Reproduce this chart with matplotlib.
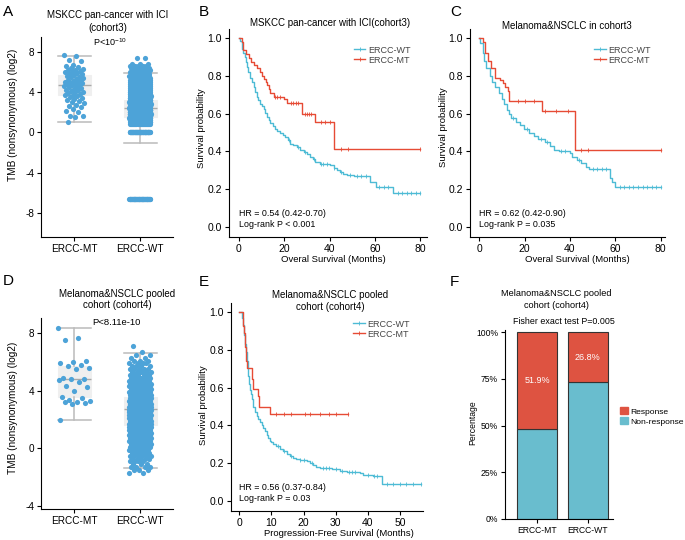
import numpy as np
import matplotlib
matplotlib.use("Agg")
import matplotlib.pyplot as plt
from matplotlib.lines import Line2D
from matplotlib.patches import Patch

plt.rcParams['font.family'] = ['Liberation Sans', 'DejaVu Sans']
plt.rcParams['mathtext.fontset'] = 'custom'
plt.rcParams['mathtext.rm'] = 'Liberation Sans'
plt.rcParams['axes.linewidth'] = 0.8
plt.rcParams['axes.unicode_minus'] = False

# ---- panel A: TMB, MSKCC cohort3 ----
groups = ["ERCC-MT", "ERCC-WT"]
a_mt = [7.7, 7.6, 7.2, 7.1, 6.7, 6.6, 6.5, 6.4, 6.3, 6.2, 6.2, 6.1, 6.0, 6.0, 5.9,
        5.8, 5.8, 5.7, 5.6, 5.5, 5.5, 5.4, 5.3, 5.2, 5.2, 5.1, 5.0, 5.0, 4.9, 4.9,
        4.8, 4.8, 4.7, 4.7, 4.6, 4.5, 4.5, 4.4, 4.3, 4.2, 4.2, 4.1, 4.0, 4.0, 3.9,
        3.8, 3.7, 3.7, 3.6, 3.5, 3.4, 3.3, 3.2, 3.1, 3.0, 2.9, 2.7, 2.6, 2.5, 2.3,
        2.1, 2.0, 1.6, 1.6, 1.5, 1.0]
a_wt_levels = [-6.64, 0.0, 0.8, 1.0, 1.2, 1.4, 1.6, 1.8, 2.0, 2.2, 2.4, 2.6, 2.8, 3.0,
               3.2, 3.4, 3.6, 3.8, 4.0, 4.2, 4.4, 4.6, 4.8, 5.0, 5.2, 5.4, 5.6, 5.8,
               6.0, 6.2, 6.4, 6.6, 6.8, 7.45]
a_wt_counts = [50, 60, 20, 40, 50, 60, 70, 75, 80, 80, 80, 75, 70, 65,
               55, 45, 40, 35, 30, 27, 24, 21, 18, 16, 14, 12, 10, 9,
               8, 7, 6, 5, 3, 2]
# box stats: q1, median, q3, lower whisker, upper whisker
a_box = [(3.76, 4.75, 5.67, 1.0, 7.65), (1.55, 2.44, 3.27, -1.09, 5.9)]

# ---- panel D: TMB, cohort4 ----
d_mt = [8.35, 7.65, 7.5, 6.1, 6.0, 5.9, 5.8, 5.75, 5.6, 5.5, 4.9, 4.85, 4.8, 4.75,
        4.6, 4.3, 4.25, 4.0, 3.6, 3.5, 3.35, 3.3, 3.25, 3.2, 3.15, 3.1, 1.95]
d_wt_levels = [-1.7, -1.5, -1.3, -1.1, -0.9, -0.7, -0.5, -0.3, -0.1, 0.1, 0.3, 0.5,
               0.7, 0.9, 1.1, 1.3, 1.5, 1.7, 1.9, 2.1, 2.3, 2.5, 2.7, 2.9, 3.1, 3.3,
               3.5, 3.7, 3.9, 4.1, 4.3, 4.5, 4.7, 4.9, 5.1, 5.3, 5.5, 5.7, 5.9, 6.1,
               6.3, 6.5, 6.7, 7.1]
d_wt_counts = [2, 3, 4, 3, 4, 5, 6, 7, 8, 9, 10, 12,
               14, 16, 18, 20, 21, 22, 23, 24, 25, 25, 25, 24, 23, 21,
               19, 17, 15, 13, 11, 10, 9, 8, 7, 6, 5, 4, 4, 3,
               2, 2, 1, 1]
d_box = [(3.59, 4.84, 5.72, 1.99, 8.38), (1.64, 2.75, 3.56, -1.34, 6.6)]

# ---- panel B: OS, MSKCC cohort3 ----
b_mt_t = [0, 1.2, 2.0, 3.2, 4.3, 5.5, 6.5, 7.9, 9.4, 10.2, 10.9, 11.8, 12.4, 13.1,
          13.8, 15.3, 19.7, 21.2, 27.8, 33.7, 41.8]
b_mt_s = [1.0, 0.98, 0.935, 0.915, 0.895, 0.875, 0.86, 0.84, 0.82, 0.80, 0.785,
          0.765, 0.75, 0.73, 0.71, 0.69, 0.675, 0.655, 0.60, 0.555, 0.415]
b_mt_cens = [16, 17, 18, 23, 24, 25, 26, 29, 30, 31, 32, 36, 38, 40, 45, 48, 80]
b_wt_t = [0, 0.5, 1.5, 2.0, 2.5, 3.0, 3.5, 4.2, 5.0, 5.7, 6.5, 7.2, 7.9, 8.6, 9.4,
          10.2, 10.9, 11.6, 12.4, 13.1, 13.8, 15.0, 16.0, 17.0, 18.2, 19.3, 20.4,
          21.5, 22.6, 24.0, 25.6, 27.0, 28.5, 30.0, 31.5, 32.6, 33.7, 35.9, 38.0,
          40.3, 41.8, 43.2, 44.7, 46.0, 47.6, 50.6, 58.0, 60.5, 68.0]
b_wt_s = [1.0, 0.985, 0.94, 0.92, 0.90, 0.875, 0.847, 0.82, 0.79, 0.765, 0.74,
          0.715, 0.69, 0.67, 0.653, 0.64, 0.627, 0.605, 0.583, 0.565, 0.548, 0.535,
          0.52, 0.507, 0.495, 0.486, 0.477, 0.46, 0.44, 0.432, 0.424, 0.41, 0.398,
          0.385, 0.371, 0.358, 0.345, 0.336, 0.332, 0.327, 0.31, 0.30, 0.292,
          0.283, 0.275, 0.27, 0.24, 0.21, 0.18]
b_wt_cens = [22, 26, 29, 33, 36, 37, 39, 42, 45, 49, 52, 54, 56, 62, 64, 66, 70, 72,
             74, 76, 78, 80]

# ---- panel C: OS, melanoma & NSCLC in cohort3 ----
c_mt_t = [0, 1.5, 2.5, 4.0, 5.0, 7.0, 9.0, 10.5, 11.5, 12.5, 13.0, 27.7, 42.0]
c_mt_s = [1.0, 0.98, 0.92, 0.88, 0.84, 0.79, 0.78, 0.76, 0.74, 0.72, 0.665, 0.615, 0.41]
c_mt_cens = [17, 20, 24, 29, 34, 39, 45, 48, 80]
c_wt_t = [0, 0.5, 1.5, 2.0, 3.0, 4.5, 5.5, 7.0, 8.5, 10.0, 11.0, 12.0, 13.0, 14.0,
          16.0, 18.0, 19.5, 22.0, 24.0, 26.0, 29.0, 31.0, 33.0, 35.0, 40.0, 41.0,
          43.0, 45.0, 47.0, 48.5, 57.5, 58.5, 60.0]
c_wt_s = [1.0, 0.975, 0.92, 0.88, 0.84, 0.80, 0.77, 0.74, 0.71, 0.68, 0.65, 0.62,
          0.60, 0.575, 0.555, 0.54, 0.52, 0.50, 0.48, 0.465, 0.45, 0.43, 0.41, 0.40,
          0.39, 0.37, 0.355, 0.34, 0.32, 0.305, 0.26, 0.24, 0.21]
c_wt_cens = [15, 21, 27, 30, 36, 38, 44, 50, 52, 54, 56, 62, 64, 66, 68, 70, 72, 74,
             76, 78, 80]

# ---- panel E: PFS, cohort4 ----
e_mt_t = [0, 1.04, 1.25, 1.45, 1.76, 2.07, 2.49, 3.84, 4.36, 5.7, 6.2, 9.5]
e_mt_s = [1.0, 0.963, 0.926, 0.889, 0.815, 0.74, 0.704, 0.648, 0.593, 0.556, 0.50, 0.46]
e_mt_cens = [11.5, 14, 16, 20.5, 22, 25, 28, 30, 33.9]
e_wt_t = [0, 0.8, 1.2, 1.5, 1.8, 2.1, 2.3, 2.6, 2.8, 3.1, 3.3, 3.6, 3.8, 4.1, 4.4,
          4.9, 5.4, 5.9, 6.4, 7.0, 7.5, 8.0, 8.5, 9.0, 9.5, 10.0, 10.6, 11.5, 12.7,
          13.7, 14.7, 15.7, 16.8, 17.8, 18.9, 21.0, 22.0, 23.0, 24.0, 25.0, 29.0,
          31.3, 33.4, 37.5, 38.6, 41.7, 44.4]
e_wt_s = [1.0, 0.97, 0.93, 0.88, 0.83, 0.79, 0.74, 0.70, 0.66, 0.62, 0.59, 0.565,
          0.54, 0.52, 0.50, 0.47, 0.45, 0.435, 0.42, 0.40, 0.385, 0.37, 0.35, 0.335,
          0.32, 0.31, 0.30, 0.29, 0.275, 0.262, 0.25, 0.237, 0.225, 0.22, 0.215,
          0.21, 0.20, 0.19, 0.18, 0.175, 0.17, 0.16, 0.155, 0.15, 0.135, 0.13, 0.09]
e_wt_cens = [12, 14, 16, 19, 20, 22.5, 26, 27, 28, 30, 32, 34, 35, 36, 40, 42, 43,
             46, 48, 50, 52, 54, 56.7]

# ---- panel F: response ----
f_response = [51.9, 26.8]
f_nonresponse = [48.1, 73.2]

W, H = 685, 540
DOT = '#4DA3D8'
RED = '#E64B35'
TEAL = '#4DBBD5'

fig = plt.figure(figsize=(W / 100, H / 100), dpi=100)


def px_axes(l, t, r, b):
    return fig.add_axes([l / W, 1 - b / H, (r - l) / W, (b - t) / H])


def ftext(x, y, s, **kw):
    fig.text(x / W, 1 - y / H, s, **kw)


def style(ax, size=7.2):
    for sp in ['top', 'right']:
        ax.spines[sp].set_visible(False)
    ax.tick_params(length=3, width=0.8, labelsize=size, pad=2)


def jitter(n, w):
    return ((np.arange(n) * 0.618034) % 1 - 0.5) * 2 * w


def tmb_panel(ax, mt, wt_levels, wt_counts, box, mt_w, wt_w):
    stats = [dict(q1=b[0], med=b[1], q3=b[2], whislo=b[3], whishi=b[4], fliers=[])
             for b in box]
    ax.bxp(stats, positions=[1, 2], widths=0.5, capwidths=0.5, patch_artist=True,
           showfliers=False,
           boxprops=dict(facecolor='#EFEFEF', edgecolor='#EFEFEF', linewidth=0.8),
           whiskerprops=dict(color='#BBBBBB', linewidth=1.1),
           capprops=dict(color='#BBBBBB', linewidth=1.1),
           medianprops=dict(color='#AAAAAA', linewidth=1.0), zorder=1)
    wt = np.repeat(wt_levels, wt_counts)
    ax.scatter(1 + jitter(len(mt), mt_w), mt, s=14, color=DOT, lw=0, zorder=3)
    ax.scatter(2 + jitter(len(wt), wt_w), wt, s=14, color=DOT, lw=0, zorder=3)
    ax.set_xlim(0.5, 2.5)
    ax.set_xticks([1, 2])
    ax.set_xticklabels(groups)
    style(ax)


def km_curve(ax, t, s, cens, color):
    end = max(cens)
    ax.step(list(t) + [end], list(s) + [s[-1]], where='post', color=color, lw=1.0)
    idx = np.searchsorted(t, cens, side='right') - 1
    ax.plot(cens, np.array(s)[idx], ls='none', marker='|', ms=3, mew=0.6, color=color)


def km_panel(ax, curves, xticks, hr, p, leg_x, leg_y):
    for t, s, c, col in curves:
        km_curve(ax, t, s, c, col)
    ax.set_ylim(-0.053, 1.048)
    ax.set_yticks([0, 0.2, 0.4, 0.6, 0.8, 1.0])
    ax.set_yticklabels(['0.0', '0.2', '0.4', '0.6', '0.8', '1.0'])
    ax.set_xticks(xticks)
    ax.text(0, 0.07, hr, fontsize=6.4, va='center')
    ax.text(0, 0.013, p, fontsize=6.4, va='center')
    handles = [Line2D([], [], color=TEAL, lw=1.0, marker='|', ms=3, mew=0.6),
               Line2D([], [], color=RED, lw=1.0, marker='|', ms=3, mew=0.6)]
    ax.legend(handles, ['ERCC-WT', 'ERCC-MT'], loc='upper left',
              bbox_to_anchor=(leg_x, leg_y), frameon=False, fontsize=6.5,
              handlelength=1.3, handletextpad=0.3, labelspacing=0.1,
              borderpad=0, borderaxespad=0, labelcolor='#444444')
    style(ax, 7.5)


# A
axA = px_axes(41, 37, 173, 237)
tmb_panel(axA, a_mt, a_wt_levels, a_wt_counts, a_box, 0.15, 0.16)
axA.set_ylim(-10.4, 9.5)
axA.set_yticks([-8, -4, 0, 4, 8])
axA.text(1.55, 9.0, r'P<10$^{\mathregular{-10}}$', fontsize=6.5, ha='center', va='center')
ftext(108, 15, 'MSKCC pan-cancer with ICI', fontsize=7, ha='center', va='center')
ftext(108, 28, '(cohort3)', fontsize=7, ha='center', va='center')
ftext(13, 115, 'TMB (nonsynonymous) (log2)', fontsize=7.2, rotation=90, ha='center', va='center')

# D
axD = px_axes(41, 318, 173, 509)
tmb_panel(axD, d_mt, d_wt_levels, d_wt_counts, d_box, 0.25, 0.17)
axD.set_ylim(-4.2, 9.05)
axD.set_yticks([-4, 0, 4, 8])
axD.text(1.65, 8.75, 'P<8.11e-10', fontsize=6.8, ha='center', va='center')
ftext(117, 294, 'Melanoma&NSCLC pooled', fontsize=7, ha='center', va='center')
ftext(117, 305, 'cohort (cohort4)', fontsize=7, ha='center', va='center')
ftext(13, 408, 'TMB (nonsynonymous) (log2)', fontsize=7.2, rotation=90, ha='center', va='center')

# B
axB = px_axes(229, 29, 427, 237)
km_panel(axB, [(b_wt_t, b_wt_s, b_wt_cens, TEAL), (b_mt_t, b_mt_s, b_mt_cens, RED)],
         [0, 20, 40, 60, 80], 'HR = 0.54 (0.42-0.70)', 'Log-rank P < 0.001', 0.63, 0.92)
axB.set_xlim(-4.4, 83)
ftext(330, 23, 'MSKCC pan-cancer with ICI(cohort3)', fontsize=7, ha='center', va='center')
ftext(202, 128, 'Survival probability', fontsize=6.8, rotation=90, ha='center', va='center')
ftext(333, 259, 'Overal Survival (Months)', fontsize=6.8, ha='center', va='center')

# C
axC = px_axes(470, 29, 665, 237)
km_panel(axC, [(c_wt_t, c_wt_s, c_wt_cens, TEAL), (c_mt_t, c_mt_s, c_mt_cens, RED)],
         [0, 20, 40, 60, 80], 'HR = 0.62 (0.42-0.90)', 'Log-rank P = 0.035', 0.635, 0.92)
axC.set_xlim(-4.1, 81.9)
ftext(567, 26, 'Melanoma&NSCLC in cohort3', fontsize=7, ha='center', va='center')
ftext(443, 127, 'Survival probability', fontsize=6.8, rotation=90, ha='center', va='center')
ftext(577, 259, 'Overal Survival (Months)', fontsize=6.8, ha='center', va='center')

# E
axE = px_axes(231, 303, 423, 511)
km_panel(axE, [(e_wt_t, e_wt_s, e_wt_cens, TEAL), (e_mt_t, e_mt_s, e_mt_cens, RED)],
         [0, 10, 20, 30, 40, 50], 'HR = 0.56 (0.37-0.84)', 'Log-rank P = 0.03', 0.635, 0.92)
axE.set_xlim(-2.6, 57.2)
ftext(330, 295, 'Melanoma&NSCLC pooled', fontsize=7, ha='center', va='center')
ftext(330, 307, 'cohort (cohort4)', fontsize=7, ha='center', va='center')
ftext(203, 405, 'Survival probability', fontsize=6.8, rotation=90, ha='center', va='center')
ftext(339, 533, 'Progression-Free Survival (Months)', fontsize=6.8, ha='center', va='center')

# F
axF = px_axes(505, 330, 613, 519)
xpos = np.arange(1, len(groups) + 1)
axF.bar(xpos, np.array(f_nonresponse) / 100, width=0.8, color='#69BDCE',
        edgecolor='#333333', lw=0.8)
axF.bar(xpos, np.array(f_response) / 100, width=0.8, bottom=np.array(f_nonresponse) / 100,
        color='#DE5341', edgecolor='#333333', lw=0.8)
for x, nr, r in zip(xpos, f_nonresponse, f_response):
    axF.text(x, (nr + r / 2) / 100, f'{r}%', color='white', fontsize=6.5,
             ha='center', va='center')
axF.set_xlim(0.36, 2.5)
axF.set_ylim(0, 1.012)
axF.set_xticks(xpos)
axF.set_xticklabels(groups)
axF.set_yticks([0, 0.25, 0.5, 0.75, 1.0])
axF.set_yticklabels(['0%', '25%', '50%', '75%', '100%'])
style(axF, 6.2)
axF.legend([Patch(color='#DE5341'), Patch(color='#69BDCE')], ['Response', 'Non-response'],
           loc='center left', bbox_to_anchor=(1.065, 0.542), frameon=False, fontsize=6.1,
           handlelength=0.9, handleheight=0.9, handletextpad=0.35, labelspacing=0.2,
           borderpad=0, borderaxespad=0)
ftext(556, 294, 'Melanoma&NSCLC pooled', fontsize=6.6, ha='center', va='center')
ftext(556, 305, 'cohort (cohort4)', fontsize=6.6, ha='center', va='center')
ftext(564, 322, 'Fisher exact test P=0.005', fontsize=6.4, ha='center', va='center')
ftext(473, 423, 'Percentage', fontsize=6.2, rotation=90, ha='center', va='center')

for lab, x, y in [('A', 3, 12), ('B', 199, 12), ('C', 450, 12),
                  ('D', 3, 281), ('E', 199, 282), ('F', 450, 282)]:
    ftext(x, y, lab, fontsize=11, va='center')

fig.savefig('out.png', dpi=100)
